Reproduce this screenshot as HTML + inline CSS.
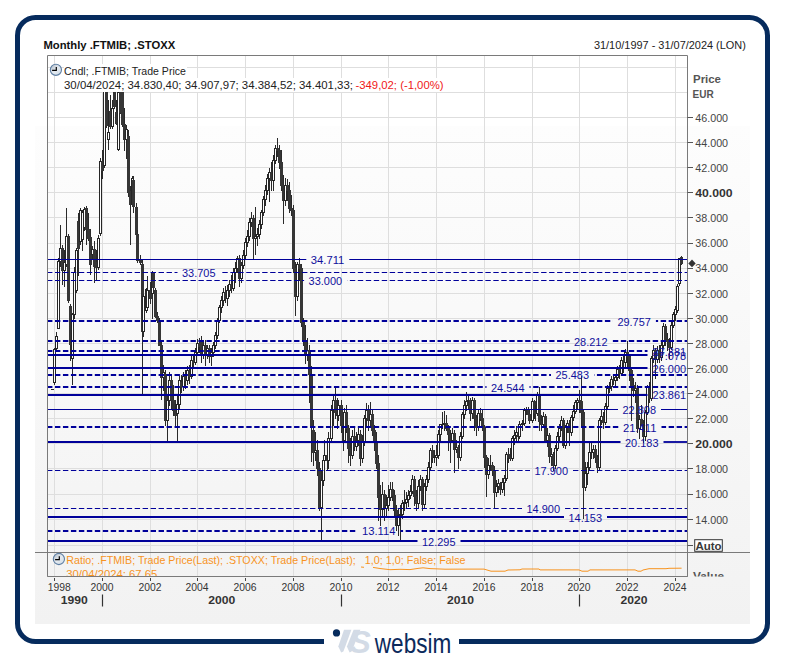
<!DOCTYPE html>
<html><head><meta charset="utf-8"><style>
html,body{margin:0;padding:0;background:#fff;width:785px;height:659px;overflow:hidden}
svg{display:block}
text{font-family:"Liberation Sans", sans-serif}
</style></head><body>
<svg width="785" height="659" viewBox="0 0 785 659">
<defs>
<linearGradient id="pg" x1="0" y1="0" x2="0" y2="1">
<stop offset="0" stop-color="#fdfdfd"/><stop offset="1" stop-color="#f2f2f2"/></linearGradient>
<linearGradient id="ck" x1="0" y1="0" x2="1" y2="1">
<stop offset="0" stop-color="#aab5c2"/><stop offset="0.5" stop-color="#e4eaf0"/><stop offset="1" stop-color="#cfdbe6"/></linearGradient>
<clipPath id="plotclip"><rect x="47.5" y="55.5" width="640.0" height="497.0"/></clipPath>
<clipPath id="lowclip"><rect x="47.5" y="552.5" width="640.0" height="24.0"/></clipPath>
</defs>

<rect x="35" y="126" width="715" height="498" fill="url(#pg)"/>
<path d="M47.5 545.5H687.5M47.5 519.5H687.5M47.5 494.5H687.5M47.5 468.5H687.5M47.5 443.5H687.5M47.5 418.5H687.5M47.5 393.5H687.5M47.5 368.5H687.5M47.5 343.5H687.5M47.5 318.5H687.5M47.5 293.5H687.5M47.5 268.5H687.5M47.5 243.5H687.5M47.5 217.5H687.5M47.5 192.5H687.5M47.5 167.5H687.5M47.5 142.5H687.5M47.5 117.5H687.5M47.5 92.5H687.5M47.5 67.5H687.5M54.5 55.5V576.5M102.5 55.5V576.5M150.5 55.5V576.5M197.5 55.5V576.5M245.5 55.5V576.5M293.5 55.5V576.5M341.5 55.5V576.5M388.5 55.5V576.5M436.5 55.5V576.5M484.5 55.5V576.5M532.5 55.5V576.5M579.5 55.5V576.5M627.5 55.5V576.5M675.5 55.5V576.5" stroke="#dedede" stroke-width="1" fill="none"/>
<g clip-path="url(#plotclip)" shape-rendering="crispEdges">
<rect x="52" y="389" width="1" height="1" fill="#2a2a2a"/><rect x="51" y="389" width="3" height="1" fill="#262626"/><rect x="54" y="348" width="1" height="37" fill="#2a2a2a"/><rect x="53" y="349" width="3" height="34" fill="#262626"/><rect x="54" y="350" width="1" height="32" fill="#fff"/><rect x="56" y="332" width="1" height="18" fill="#2a2a2a"/><rect x="55" y="336" width="3" height="13" fill="#262626"/><rect x="56" y="337" width="1" height="11" fill="#fff"/><rect x="58" y="258" width="1" height="71" fill="#2a2a2a"/><rect x="57" y="261" width="3" height="68" fill="#262626"/><rect x="58" y="262" width="1" height="66" fill="#fff"/><rect x="60" y="225" width="1" height="42" fill="#2a2a2a"/><rect x="59" y="248" width="3" height="14" fill="#262626"/><rect x="60" y="249" width="1" height="12" fill="#fff"/><rect x="62" y="245" width="1" height="40" fill="#2a2a2a"/><rect x="61" y="248" width="3" height="23" fill="#363636"/><rect x="64" y="250" width="1" height="37" fill="#2a2a2a"/><rect x="63" y="262" width="3" height="9" fill="#262626"/><rect x="64" y="263" width="1" height="7" fill="#fff"/><rect x="66" y="208" width="1" height="59" fill="#2a2a2a"/><rect x="65" y="236" width="3" height="29" fill="#262626"/><rect x="66" y="237" width="1" height="27" fill="#fff"/><rect x="68" y="234" width="1" height="69" fill="#2a2a2a"/><rect x="67" y="236" width="3" height="65" fill="#363636"/><rect x="70" y="304" width="1" height="57" fill="#2a2a2a"/><rect x="69" y="306" width="3" height="39" fill="#363636"/><rect x="72" y="313" width="1" height="72" fill="#2a2a2a"/><rect x="71" y="314" width="3" height="45" fill="#262626"/><rect x="72" y="315" width="1" height="43" fill="#fff"/><rect x="74" y="267" width="1" height="52" fill="#2a2a2a"/><rect x="73" y="272" width="3" height="43" fill="#262626"/><rect x="74" y="273" width="1" height="41" fill="#fff"/><rect x="76" y="248" width="1" height="45" fill="#2a2a2a"/><rect x="75" y="250" width="3" height="41" fill="#262626"/><rect x="76" y="251" width="1" height="39" fill="#fff"/><rect x="78" y="213" width="1" height="63" fill="#2a2a2a"/><rect x="77" y="221" width="3" height="28" fill="#363636"/><rect x="80" y="208" width="1" height="37" fill="#2a2a2a"/><rect x="79" y="210" width="3" height="32" fill="#262626"/><rect x="80" y="211" width="1" height="30" fill="#fff"/><rect x="82" y="210" width="1" height="41" fill="#2a2a2a"/><rect x="81" y="212" width="3" height="28" fill="#262626"/><rect x="82" y="213" width="1" height="26" fill="#fff"/><rect x="84" y="207" width="1" height="24" fill="#2a2a2a"/><rect x="83" y="209" width="3" height="19" fill="#262626"/><rect x="84" y="210" width="1" height="17" fill="#fff"/><rect x="86" y="206" width="1" height="39" fill="#2a2a2a"/><rect x="85" y="208" width="3" height="22" fill="#363636"/><rect x="88" y="213" width="1" height="28" fill="#2a2a2a"/><rect x="87" y="229" width="3" height="10" fill="#363636"/><rect x="90" y="229" width="1" height="46" fill="#2a2a2a"/><rect x="89" y="237" width="3" height="28" fill="#363636"/><rect x="92" y="246" width="1" height="13" fill="#2a2a2a"/><rect x="91" y="249" width="3" height="6" fill="#262626"/><rect x="92" y="250" width="1" height="4" fill="#fff"/><rect x="94" y="241" width="1" height="42" fill="#2a2a2a"/><rect x="93" y="249" width="3" height="18" fill="#363636"/><rect x="96" y="250" width="1" height="31" fill="#2a2a2a"/><rect x="95" y="262" width="3" height="6" fill="#363636"/><rect x="98" y="235" width="1" height="35" fill="#2a2a2a"/><rect x="97" y="238" width="3" height="30" fill="#262626"/><rect x="98" y="239" width="1" height="28" fill="#fff"/><rect x="100" y="158" width="1" height="78" fill="#2a2a2a"/><rect x="99" y="161" width="3" height="73" fill="#262626"/><rect x="100" y="162" width="1" height="71" fill="#fff"/><rect x="102" y="150" width="1" height="29" fill="#2a2a2a"/><rect x="101" y="161" width="3" height="10" fill="#363636"/><rect x="104" y="70" width="1" height="98" fill="#2a2a2a"/><rect x="103" y="85" width="3" height="81" fill="#262626"/><rect x="104" y="86" width="1" height="79" fill="#fff"/><rect x="106" y="70" width="1" height="58" fill="#2a2a2a"/><rect x="105" y="85" width="3" height="41" fill="#363636"/><rect x="108" y="100" width="1" height="50" fill="#2a2a2a"/><rect x="107" y="132" width="3" height="8" fill="#262626"/><rect x="108" y="133" width="1" height="6" fill="#fff"/><rect x="110" y="95" width="1" height="34" fill="#2a2a2a"/><rect x="109" y="111" width="3" height="16" fill="#363636"/><rect x="112" y="100" width="1" height="29" fill="#2a2a2a"/><rect x="111" y="108" width="3" height="19" fill="#262626"/><rect x="112" y="109" width="1" height="17" fill="#fff"/><rect x="114" y="75" width="1" height="34" fill="#2a2a2a"/><rect x="113" y="85" width="3" height="22" fill="#363636"/><rect x="116" y="100" width="1" height="25" fill="#2a2a2a"/><rect x="115" y="112" width="3" height="12" fill="#363636"/><rect x="118" y="85" width="1" height="66" fill="#2a2a2a"/><rect x="117" y="92" width="3" height="58" fill="#262626"/><rect x="118" y="93" width="1" height="56" fill="#fff"/><rect x="120" y="80" width="1" height="34" fill="#2a2a2a"/><rect x="119" y="92" width="3" height="21" fill="#363636"/><rect x="122" y="85" width="1" height="42" fill="#2a2a2a"/><rect x="121" y="92" width="3" height="33" fill="#363636"/><rect x="124" y="108" width="1" height="43" fill="#2a2a2a"/><rect x="123" y="124" width="3" height="16" fill="#363636"/><rect x="126" y="125" width="1" height="34" fill="#2a2a2a"/><rect x="125" y="129" width="3" height="11" fill="#262626"/><rect x="126" y="130" width="1" height="9" fill="#fff"/><rect x="128" y="130" width="1" height="67" fill="#2a2a2a"/><rect x="127" y="136" width="3" height="57" fill="#363636"/><rect x="130" y="186" width="1" height="59" fill="#2a2a2a"/><rect x="129" y="191" width="3" height="14" fill="#363636"/><rect x="132" y="176" width="1" height="31" fill="#2a2a2a"/><rect x="131" y="178" width="3" height="27" fill="#262626"/><rect x="132" y="179" width="1" height="25" fill="#fff"/><rect x="133" y="176" width="1" height="37" fill="#2a2a2a"/><rect x="132" y="180" width="3" height="27" fill="#363636"/><rect x="136" y="203" width="1" height="36" fill="#2a2a2a"/><rect x="135" y="207" width="3" height="28" fill="#363636"/><rect x="137" y="230" width="1" height="33" fill="#2a2a2a"/><rect x="136" y="234" width="3" height="27" fill="#363636"/><rect x="140" y="255" width="1" height="10" fill="#2a2a2a"/><rect x="139" y="260" width="3" height="3" fill="#363636"/><rect x="142" y="260" width="1" height="135" fill="#2a2a2a"/><rect x="141" y="264" width="3" height="68" fill="#363636"/><rect x="143" y="294" width="1" height="43" fill="#2a2a2a"/><rect x="142" y="296" width="3" height="36" fill="#262626"/><rect x="143" y="297" width="1" height="34" fill="#fff"/><rect x="146" y="288" width="1" height="25" fill="#2a2a2a"/><rect x="145" y="289" width="3" height="22" fill="#262626"/><rect x="146" y="290" width="1" height="20" fill="#fff"/><rect x="147" y="276" width="1" height="34" fill="#2a2a2a"/><rect x="146" y="290" width="3" height="18" fill="#262626"/><rect x="147" y="291" width="1" height="16" fill="#fff"/><rect x="150" y="282" width="1" height="22" fill="#2a2a2a"/><rect x="149" y="290" width="3" height="9" fill="#363636"/><rect x="152" y="271" width="1" height="48" fill="#2a2a2a"/><rect x="151" y="273" width="3" height="21" fill="#262626"/><rect x="152" y="274" width="1" height="19" fill="#fff"/><rect x="153" y="272" width="1" height="18" fill="#2a2a2a"/><rect x="152" y="273" width="3" height="15" fill="#363636"/><rect x="155" y="288" width="1" height="30" fill="#2a2a2a"/><rect x="154" y="290" width="3" height="27" fill="#363636"/><rect x="157" y="312" width="1" height="11" fill="#2a2a2a"/><rect x="156" y="316" width="3" height="5" fill="#363636"/><rect x="159" y="318" width="1" height="28" fill="#2a2a2a"/><rect x="158" y="321" width="3" height="25" fill="#363636"/><rect x="161" y="340" width="1" height="60" fill="#2a2a2a"/><rect x="160" y="345" width="3" height="33" fill="#363636"/><rect x="163" y="365" width="1" height="26" fill="#2a2a2a"/><rect x="162" y="372" width="3" height="6" fill="#262626"/><rect x="163" y="373" width="1" height="4" fill="#fff"/><rect x="165" y="370" width="1" height="56" fill="#2a2a2a"/><rect x="164" y="374" width="3" height="47" fill="#363636"/><rect x="167" y="395" width="1" height="46" fill="#2a2a2a"/><rect x="166" y="400" width="3" height="21" fill="#262626"/><rect x="167" y="401" width="1" height="19" fill="#fff"/><rect x="169" y="372" width="1" height="34" fill="#2a2a2a"/><rect x="168" y="380" width="3" height="21" fill="#262626"/><rect x="169" y="381" width="1" height="19" fill="#fff"/><rect x="171" y="375" width="1" height="34" fill="#2a2a2a"/><rect x="170" y="380" width="3" height="21" fill="#363636"/><rect x="173" y="385" width="1" height="31" fill="#2a2a2a"/><rect x="172" y="400" width="3" height="11" fill="#363636"/><rect x="175" y="400" width="1" height="26" fill="#2a2a2a"/><rect x="174" y="410" width="3" height="6" fill="#363636"/><rect x="177" y="394" width="1" height="47" fill="#2a2a2a"/><rect x="176" y="404" width="3" height="10" fill="#262626"/><rect x="177" y="405" width="1" height="8" fill="#fff"/><rect x="179" y="376" width="1" height="33" fill="#2a2a2a"/><rect x="178" y="380" width="3" height="25" fill="#262626"/><rect x="179" y="381" width="1" height="23" fill="#fff"/><rect x="181" y="375" width="1" height="18" fill="#2a2a2a"/><rect x="180" y="382" width="3" height="5" fill="#363636"/><rect x="183" y="372" width="1" height="19" fill="#2a2a2a"/><rect x="182" y="376" width="3" height="11" fill="#262626"/><rect x="183" y="377" width="1" height="9" fill="#fff"/><rect x="185" y="370" width="1" height="19" fill="#2a2a2a"/><rect x="184" y="376" width="3" height="5" fill="#363636"/><rect x="187" y="366" width="1" height="19" fill="#2a2a2a"/><rect x="186" y="370" width="3" height="11" fill="#262626"/><rect x="187" y="371" width="1" height="9" fill="#fff"/><rect x="189" y="365" width="1" height="19" fill="#2a2a2a"/><rect x="188" y="370" width="3" height="7" fill="#363636"/><rect x="191" y="355" width="1" height="24" fill="#2a2a2a"/><rect x="190" y="360" width="3" height="17" fill="#262626"/><rect x="191" y="361" width="1" height="15" fill="#fff"/><rect x="193" y="355" width="1" height="14" fill="#2a2a2a"/><rect x="192" y="360" width="3" height="3" fill="#363636"/><rect x="195" y="348" width="1" height="17" fill="#2a2a2a"/><rect x="194" y="352" width="3" height="11" fill="#262626"/><rect x="195" y="353" width="1" height="9" fill="#fff"/><rect x="197" y="339" width="1" height="17" fill="#2a2a2a"/><rect x="196" y="343" width="3" height="10" fill="#262626"/><rect x="197" y="344" width="1" height="8" fill="#fff"/><rect x="199" y="338" width="1" height="15" fill="#2a2a2a"/><rect x="198" y="343" width="3" height="4" fill="#363636"/><rect x="201" y="336" width="1" height="27" fill="#2a2a2a"/><rect x="200" y="342" width="3" height="14" fill="#363636"/><rect x="203" y="340" width="1" height="19" fill="#2a2a2a"/><rect x="202" y="345" width="3" height="11" fill="#262626"/><rect x="203" y="346" width="1" height="9" fill="#fff"/><rect x="205" y="340" width="1" height="26" fill="#2a2a2a"/><rect x="204" y="345" width="3" height="11" fill="#363636"/><rect x="207" y="345" width="1" height="14" fill="#2a2a2a"/><rect x="206" y="348" width="3" height="8" fill="#262626"/><rect x="207" y="349" width="1" height="6" fill="#fff"/><rect x="209" y="345" width="1" height="18" fill="#2a2a2a"/><rect x="208" y="348" width="3" height="9" fill="#363636"/><rect x="211" y="348" width="1" height="18" fill="#2a2a2a"/><rect x="210" y="352" width="3" height="5" fill="#262626"/><rect x="211" y="353" width="1" height="3" fill="#fff"/><rect x="213" y="342" width="1" height="15" fill="#2a2a2a"/><rect x="212" y="345" width="3" height="8" fill="#262626"/><rect x="213" y="346" width="1" height="6" fill="#fff"/><rect x="215" y="332" width="1" height="17" fill="#2a2a2a"/><rect x="214" y="335" width="3" height="11" fill="#262626"/><rect x="215" y="336" width="1" height="9" fill="#fff"/><rect x="217" y="318" width="1" height="21" fill="#2a2a2a"/><rect x="216" y="320" width="3" height="16" fill="#262626"/><rect x="217" y="321" width="1" height="14" fill="#fff"/><rect x="219" y="305" width="1" height="18" fill="#2a2a2a"/><rect x="218" y="307" width="3" height="14" fill="#262626"/><rect x="219" y="308" width="1" height="12" fill="#fff"/><rect x="221" y="296" width="1" height="17" fill="#2a2a2a"/><rect x="220" y="300" width="3" height="8" fill="#262626"/><rect x="221" y="301" width="1" height="6" fill="#fff"/><rect x="223" y="288" width="1" height="18" fill="#2a2a2a"/><rect x="222" y="292" width="3" height="9" fill="#262626"/><rect x="223" y="293" width="1" height="7" fill="#fff"/><rect x="225" y="286" width="1" height="17" fill="#2a2a2a"/><rect x="224" y="292" width="3" height="7" fill="#363636"/><rect x="227" y="285" width="1" height="21" fill="#2a2a2a"/><rect x="226" y="290" width="3" height="9" fill="#262626"/><rect x="227" y="291" width="1" height="7" fill="#fff"/><rect x="229" y="280" width="1" height="17" fill="#2a2a2a"/><rect x="228" y="284" width="3" height="7" fill="#262626"/><rect x="229" y="285" width="1" height="5" fill="#fff"/><rect x="231" y="275" width="1" height="18" fill="#2a2a2a"/><rect x="230" y="284" width="3" height="5" fill="#363636"/><rect x="233" y="268" width="1" height="23" fill="#2a2a2a"/><rect x="232" y="272" width="3" height="17" fill="#262626"/><rect x="233" y="273" width="1" height="15" fill="#fff"/><rect x="235" y="262" width="1" height="21" fill="#2a2a2a"/><rect x="234" y="268" width="3" height="5" fill="#262626"/><rect x="235" y="269" width="1" height="3" fill="#fff"/><rect x="237" y="256" width="1" height="17" fill="#2a2a2a"/><rect x="236" y="258" width="3" height="11" fill="#262626"/><rect x="237" y="259" width="1" height="9" fill="#fff"/><rect x="239" y="255" width="1" height="32" fill="#2a2a2a"/><rect x="238" y="258" width="3" height="21" fill="#363636"/><rect x="241" y="262" width="1" height="21" fill="#2a2a2a"/><rect x="240" y="265" width="3" height="14" fill="#262626"/><rect x="241" y="266" width="1" height="12" fill="#fff"/><rect x="243" y="250" width="1" height="19" fill="#2a2a2a"/><rect x="242" y="255" width="3" height="11" fill="#262626"/><rect x="243" y="256" width="1" height="9" fill="#fff"/><rect x="245" y="238" width="1" height="21" fill="#2a2a2a"/><rect x="244" y="242" width="3" height="14" fill="#262626"/><rect x="245" y="243" width="1" height="12" fill="#fff"/><rect x="247" y="230" width="1" height="17" fill="#2a2a2a"/><rect x="246" y="236" width="3" height="7" fill="#262626"/><rect x="247" y="237" width="1" height="5" fill="#fff"/><rect x="249" y="218" width="1" height="23" fill="#2a2a2a"/><rect x="248" y="222" width="3" height="15" fill="#262626"/><rect x="249" y="223" width="1" height="13" fill="#fff"/><rect x="251" y="212" width="1" height="15" fill="#2a2a2a"/><rect x="250" y="218" width="3" height="5" fill="#262626"/><rect x="251" y="219" width="1" height="3" fill="#fff"/><rect x="253" y="215" width="1" height="45" fill="#2a2a2a"/><rect x="252" y="218" width="3" height="21" fill="#363636"/><rect x="255" y="207" width="1" height="48" fill="#2a2a2a"/><rect x="254" y="236" width="3" height="3" fill="#262626"/><rect x="255" y="237" width="1" height="1" fill="#fff"/><rect x="257" y="228" width="1" height="18" fill="#2a2a2a"/><rect x="256" y="234" width="3" height="3" fill="#262626"/><rect x="257" y="235" width="1" height="1" fill="#fff"/><rect x="259" y="220" width="1" height="19" fill="#2a2a2a"/><rect x="258" y="224" width="3" height="11" fill="#262626"/><rect x="259" y="225" width="1" height="9" fill="#fff"/><rect x="261" y="210" width="1" height="19" fill="#2a2a2a"/><rect x="260" y="212" width="3" height="13" fill="#262626"/><rect x="261" y="213" width="1" height="11" fill="#fff"/><rect x="263" y="196" width="1" height="20" fill="#2a2a2a"/><rect x="262" y="199" width="3" height="14" fill="#262626"/><rect x="263" y="200" width="1" height="12" fill="#fff"/><rect x="265" y="185" width="1" height="21" fill="#2a2a2a"/><rect x="264" y="190" width="3" height="10" fill="#262626"/><rect x="265" y="191" width="1" height="8" fill="#fff"/><rect x="267" y="174" width="1" height="21" fill="#2a2a2a"/><rect x="266" y="178" width="3" height="13" fill="#262626"/><rect x="267" y="179" width="1" height="11" fill="#fff"/><rect x="269" y="168" width="1" height="34" fill="#2a2a2a"/><rect x="268" y="172" width="3" height="7" fill="#262626"/><rect x="269" y="173" width="1" height="5" fill="#fff"/><rect x="271" y="162" width="1" height="29" fill="#2a2a2a"/><rect x="270" y="172" width="3" height="9" fill="#363636"/><rect x="273" y="155" width="1" height="36" fill="#2a2a2a"/><rect x="272" y="160" width="3" height="21" fill="#262626"/><rect x="273" y="161" width="1" height="19" fill="#fff"/><rect x="275" y="145" width="1" height="19" fill="#2a2a2a"/><rect x="274" y="148" width="3" height="13" fill="#262626"/><rect x="275" y="149" width="1" height="11" fill="#fff"/><rect x="277" y="138" width="1" height="19" fill="#2a2a2a"/><rect x="276" y="148" width="3" height="3" fill="#363636"/><rect x="279" y="145" width="1" height="24" fill="#2a2a2a"/><rect x="278" y="150" width="3" height="13" fill="#363636"/><rect x="281" y="150" width="1" height="41" fill="#2a2a2a"/><rect x="280" y="162" width="3" height="24" fill="#363636"/><rect x="283" y="175" width="1" height="49" fill="#2a2a2a"/><rect x="282" y="185" width="3" height="16" fill="#363636"/><rect x="285" y="178" width="1" height="28" fill="#2a2a2a"/><rect x="284" y="185" width="3" height="16" fill="#262626"/><rect x="285" y="186" width="1" height="14" fill="#fff"/><rect x="287" y="179" width="1" height="22" fill="#2a2a2a"/><rect x="286" y="185" width="3" height="6" fill="#363636"/><rect x="289" y="182" width="1" height="31" fill="#2a2a2a"/><rect x="288" y="190" width="3" height="19" fill="#363636"/><rect x="291" y="195" width="1" height="21" fill="#2a2a2a"/><rect x="290" y="208" width="3" height="3" fill="#363636"/><rect x="293" y="205" width="1" height="68" fill="#2a2a2a"/><rect x="292" y="210" width="3" height="59" fill="#363636"/><rect x="295" y="262" width="1" height="54" fill="#2a2a2a"/><rect x="294" y="268" width="3" height="29" fill="#363636"/><rect x="297" y="262" width="1" height="39" fill="#2a2a2a"/><rect x="296" y="264" width="3" height="33" fill="#262626"/><rect x="297" y="265" width="1" height="31" fill="#fff"/><rect x="299" y="258" width="1" height="23" fill="#2a2a2a"/><rect x="298" y="264" width="3" height="5" fill="#363636"/><rect x="301" y="264" width="1" height="63" fill="#2a2a2a"/><rect x="300" y="268" width="3" height="55" fill="#363636"/><rect x="303" y="318" width="1" height="28" fill="#2a2a2a"/><rect x="302" y="322" width="3" height="19" fill="#363636"/><rect x="305" y="325" width="1" height="39" fill="#2a2a2a"/><rect x="304" y="340" width="3" height="15" fill="#363636"/><rect x="307" y="338" width="1" height="23" fill="#2a2a2a"/><rect x="306" y="350" width="3" height="5" fill="#262626"/><rect x="307" y="351" width="1" height="3" fill="#fff"/><rect x="309" y="345" width="1" height="58" fill="#2a2a2a"/><rect x="308" y="350" width="3" height="25" fill="#363636"/><rect x="311" y="366" width="1" height="96" fill="#2a2a2a"/><rect x="310" y="374" width="3" height="54" fill="#363636"/><rect x="313" y="420" width="1" height="46" fill="#2a2a2a"/><rect x="312" y="430" width="3" height="23" fill="#363636"/><rect x="315" y="432" width="1" height="29" fill="#2a2a2a"/><rect x="314" y="450" width="3" height="3" fill="#262626"/><rect x="315" y="451" width="1" height="1" fill="#fff"/><rect x="317" y="440" width="1" height="36" fill="#2a2a2a"/><rect x="316" y="450" width="3" height="19" fill="#363636"/><rect x="319" y="462" width="1" height="49" fill="#2a2a2a"/><rect x="318" y="468" width="3" height="40" fill="#363636"/><rect x="321" y="470" width="1" height="71" fill="#2a2a2a"/><rect x="320" y="480" width="3" height="28" fill="#262626"/><rect x="321" y="481" width="1" height="26" fill="#fff"/><rect x="323" y="455" width="1" height="31" fill="#2a2a2a"/><rect x="322" y="460" width="3" height="21" fill="#262626"/><rect x="323" y="461" width="1" height="19" fill="#fff"/><rect x="324" y="440" width="1" height="26" fill="#2a2a2a"/><rect x="323" y="455" width="3" height="6" fill="#262626"/><rect x="324" y="456" width="1" height="4" fill="#fff"/><rect x="327" y="445" width="1" height="26" fill="#2a2a2a"/><rect x="326" y="455" width="3" height="6" fill="#363636"/><rect x="328" y="432" width="1" height="37" fill="#2a2a2a"/><rect x="327" y="438" width="3" height="23" fill="#262626"/><rect x="328" y="439" width="1" height="21" fill="#fff"/><rect x="331" y="405" width="1" height="36" fill="#2a2a2a"/><rect x="330" y="410" width="3" height="29" fill="#262626"/><rect x="331" y="411" width="1" height="27" fill="#fff"/><rect x="333" y="395" width="1" height="31" fill="#2a2a2a"/><rect x="332" y="400" width="3" height="11" fill="#262626"/><rect x="333" y="401" width="1" height="9" fill="#fff"/><rect x="335" y="388" width="1" height="31" fill="#2a2a2a"/><rect x="334" y="400" width="3" height="13" fill="#363636"/><rect x="337" y="398" width="1" height="31" fill="#2a2a2a"/><rect x="336" y="412" width="3" height="4" fill="#363636"/><rect x="338" y="400" width="1" height="21" fill="#2a2a2a"/><rect x="337" y="405" width="3" height="11" fill="#262626"/><rect x="338" y="406" width="1" height="9" fill="#fff"/><rect x="341" y="400" width="1" height="33" fill="#2a2a2a"/><rect x="340" y="405" width="3" height="21" fill="#363636"/><rect x="343" y="418" width="1" height="33" fill="#2a2a2a"/><rect x="342" y="425" width="3" height="16" fill="#363636"/><rect x="344" y="408" width="1" height="35" fill="#2a2a2a"/><rect x="343" y="412" width="3" height="29" fill="#262626"/><rect x="344" y="413" width="1" height="27" fill="#fff"/><rect x="346" y="405" width="1" height="28" fill="#2a2a2a"/><rect x="345" y="412" width="3" height="17" fill="#363636"/><rect x="348" y="425" width="1" height="38" fill="#2a2a2a"/><rect x="347" y="428" width="3" height="21" fill="#363636"/><rect x="350" y="438" width="1" height="28" fill="#2a2a2a"/><rect x="349" y="448" width="3" height="8" fill="#363636"/><rect x="352" y="430" width="1" height="29" fill="#2a2a2a"/><rect x="351" y="436" width="3" height="20" fill="#262626"/><rect x="352" y="437" width="1" height="18" fill="#fff"/><rect x="354" y="428" width="1" height="23" fill="#2a2a2a"/><rect x="353" y="436" width="3" height="11" fill="#363636"/><rect x="356" y="432" width="1" height="19" fill="#2a2a2a"/><rect x="355" y="440" width="3" height="7" fill="#262626"/><rect x="356" y="441" width="1" height="5" fill="#fff"/><rect x="358" y="428" width="1" height="18" fill="#2a2a2a"/><rect x="357" y="434" width="3" height="7" fill="#262626"/><rect x="358" y="435" width="1" height="5" fill="#fff"/><rect x="360" y="430" width="1" height="36" fill="#2a2a2a"/><rect x="359" y="434" width="3" height="25" fill="#363636"/><rect x="362" y="435" width="1" height="28" fill="#2a2a2a"/><rect x="361" y="441" width="3" height="18" fill="#262626"/><rect x="362" y="442" width="1" height="16" fill="#fff"/><rect x="364" y="415" width="1" height="31" fill="#2a2a2a"/><rect x="363" y="418" width="3" height="24" fill="#262626"/><rect x="364" y="419" width="1" height="22" fill="#fff"/><rect x="366" y="403" width="1" height="23" fill="#2a2a2a"/><rect x="365" y="410" width="3" height="9" fill="#262626"/><rect x="366" y="411" width="1" height="7" fill="#fff"/><rect x="368" y="405" width="1" height="26" fill="#2a2a2a"/><rect x="367" y="410" width="3" height="11" fill="#363636"/><rect x="370" y="402" width="1" height="24" fill="#2a2a2a"/><rect x="369" y="414" width="3" height="7" fill="#262626"/><rect x="370" y="415" width="1" height="5" fill="#fff"/><rect x="372" y="410" width="1" height="26" fill="#2a2a2a"/><rect x="371" y="414" width="3" height="17" fill="#363636"/><rect x="374" y="425" width="1" height="26" fill="#2a2a2a"/><rect x="373" y="430" width="3" height="12" fill="#363636"/><rect x="376" y="432" width="1" height="37" fill="#2a2a2a"/><rect x="375" y="441" width="3" height="23" fill="#363636"/><rect x="378" y="455" width="1" height="66" fill="#2a2a2a"/><rect x="377" y="463" width="3" height="35" fill="#363636"/><rect x="380" y="485" width="1" height="41" fill="#2a2a2a"/><rect x="379" y="497" width="3" height="13" fill="#363636"/><rect x="382" y="482" width="1" height="34" fill="#2a2a2a"/><rect x="381" y="494" width="3" height="16" fill="#262626"/><rect x="382" y="495" width="1" height="14" fill="#fff"/><rect x="384" y="490" width="1" height="31" fill="#2a2a2a"/><rect x="383" y="494" width="3" height="15" fill="#363636"/><rect x="386" y="495" width="1" height="21" fill="#2a2a2a"/><rect x="385" y="505" width="3" height="4" fill="#262626"/><rect x="386" y="506" width="1" height="2" fill="#fff"/><rect x="388" y="485" width="1" height="26" fill="#2a2a2a"/><rect x="387" y="497" width="3" height="9" fill="#262626"/><rect x="388" y="498" width="1" height="7" fill="#fff"/><rect x="390" y="482" width="1" height="19" fill="#2a2a2a"/><rect x="389" y="489" width="3" height="9" fill="#262626"/><rect x="390" y="490" width="1" height="7" fill="#fff"/><rect x="392" y="482" width="1" height="19" fill="#2a2a2a"/><rect x="391" y="489" width="3" height="7" fill="#363636"/><rect x="394" y="490" width="1" height="26" fill="#2a2a2a"/><rect x="393" y="495" width="3" height="16" fill="#363636"/><rect x="396" y="505" width="1" height="26" fill="#2a2a2a"/><rect x="395" y="510" width="3" height="16" fill="#363636"/><rect x="398" y="508" width="1" height="28" fill="#2a2a2a"/><rect x="397" y="515" width="3" height="11" fill="#262626"/><rect x="398" y="516" width="1" height="9" fill="#fff"/><rect x="400" y="505" width="1" height="37" fill="#2a2a2a"/><rect x="399" y="514" width="3" height="2" fill="#262626"/><rect x="402" y="500" width="1" height="19" fill="#2a2a2a"/><rect x="401" y="503" width="3" height="12" fill="#262626"/><rect x="402" y="504" width="1" height="10" fill="#fff"/><rect x="404" y="490" width="1" height="21" fill="#2a2a2a"/><rect x="403" y="502" width="3" height="2" fill="#262626"/><rect x="406" y="492" width="1" height="17" fill="#2a2a2a"/><rect x="405" y="499" width="3" height="4" fill="#262626"/><rect x="406" y="500" width="1" height="2" fill="#fff"/><rect x="408" y="490" width="1" height="17" fill="#2a2a2a"/><rect x="407" y="495" width="3" height="5" fill="#262626"/><rect x="408" y="496" width="1" height="3" fill="#fff"/><rect x="410" y="485" width="1" height="14" fill="#2a2a2a"/><rect x="409" y="491" width="3" height="5" fill="#262626"/><rect x="410" y="492" width="1" height="3" fill="#fff"/><rect x="412" y="475" width="1" height="19" fill="#2a2a2a"/><rect x="411" y="479" width="3" height="13" fill="#262626"/><rect x="412" y="480" width="1" height="11" fill="#fff"/><rect x="414" y="476" width="1" height="30" fill="#2a2a2a"/><rect x="413" y="479" width="3" height="18" fill="#363636"/><rect x="416" y="490" width="1" height="21" fill="#2a2a2a"/><rect x="415" y="496" width="3" height="8" fill="#363636"/><rect x="418" y="480" width="1" height="29" fill="#2a2a2a"/><rect x="417" y="486" width="3" height="18" fill="#262626"/><rect x="418" y="487" width="1" height="16" fill="#fff"/><rect x="420" y="475" width="1" height="16" fill="#2a2a2a"/><rect x="419" y="479" width="3" height="8" fill="#262626"/><rect x="420" y="480" width="1" height="6" fill="#fff"/><rect x="422" y="477" width="1" height="34" fill="#2a2a2a"/><rect x="421" y="479" width="3" height="26" fill="#363636"/><rect x="424" y="483" width="1" height="25" fill="#2a2a2a"/><rect x="423" y="486" width="3" height="19" fill="#262626"/><rect x="424" y="487" width="1" height="17" fill="#fff"/><rect x="426" y="475" width="1" height="16" fill="#2a2a2a"/><rect x="425" y="479" width="3" height="8" fill="#262626"/><rect x="426" y="480" width="1" height="6" fill="#fff"/><rect x="428" y="462" width="1" height="21" fill="#2a2a2a"/><rect x="427" y="467" width="3" height="13" fill="#262626"/><rect x="428" y="468" width="1" height="11" fill="#fff"/><rect x="430" y="448" width="1" height="23" fill="#2a2a2a"/><rect x="429" y="450" width="3" height="18" fill="#262626"/><rect x="430" y="451" width="1" height="16" fill="#fff"/><rect x="432" y="445" width="1" height="18" fill="#2a2a2a"/><rect x="431" y="450" width="3" height="8" fill="#363636"/><rect x="434" y="450" width="1" height="13" fill="#2a2a2a"/><rect x="433" y="457" width="3" height="1" fill="#262626"/><rect x="436" y="445" width="1" height="21" fill="#2a2a2a"/><rect x="435" y="455" width="3" height="3" fill="#262626"/><rect x="436" y="456" width="1" height="1" fill="#fff"/><rect x="438" y="430" width="1" height="29" fill="#2a2a2a"/><rect x="437" y="434" width="3" height="22" fill="#262626"/><rect x="438" y="435" width="1" height="20" fill="#fff"/><rect x="440" y="424" width="1" height="17" fill="#2a2a2a"/><rect x="439" y="424" width="3" height="11" fill="#262626"/><rect x="440" y="425" width="1" height="9" fill="#fff"/><rect x="442" y="412" width="1" height="17" fill="#2a2a2a"/><rect x="441" y="424" width="3" height="1" fill="#262626"/><rect x="444" y="411" width="1" height="20" fill="#2a2a2a"/><rect x="443" y="423" width="3" height="2" fill="#262626"/><rect x="446" y="415" width="1" height="16" fill="#2a2a2a"/><rect x="445" y="423" width="3" height="6" fill="#363636"/><rect x="448" y="425" width="1" height="26" fill="#2a2a2a"/><rect x="447" y="428" width="3" height="7" fill="#363636"/><rect x="450" y="430" width="1" height="33" fill="#2a2a2a"/><rect x="449" y="434" width="3" height="7" fill="#363636"/><rect x="452" y="428" width="1" height="15" fill="#2a2a2a"/><rect x="451" y="433" width="3" height="8" fill="#262626"/><rect x="452" y="434" width="1" height="6" fill="#fff"/><rect x="454" y="430" width="1" height="43" fill="#2a2a2a"/><rect x="453" y="433" width="3" height="17" fill="#363636"/><rect x="456" y="440" width="1" height="13" fill="#2a2a2a"/><rect x="455" y="447" width="3" height="3" fill="#262626"/><rect x="456" y="448" width="1" height="1" fill="#fff"/><rect x="458" y="445" width="1" height="24" fill="#2a2a2a"/><rect x="457" y="447" width="3" height="11" fill="#363636"/><rect x="460" y="432" width="1" height="29" fill="#2a2a2a"/><rect x="459" y="436" width="3" height="22" fill="#262626"/><rect x="460" y="437" width="1" height="20" fill="#fff"/><rect x="462" y="412" width="1" height="27" fill="#2a2a2a"/><rect x="461" y="414" width="3" height="23" fill="#262626"/><rect x="462" y="415" width="1" height="21" fill="#fff"/><rect x="464" y="400" width="1" height="19" fill="#2a2a2a"/><rect x="463" y="405" width="3" height="10" fill="#262626"/><rect x="464" y="406" width="1" height="8" fill="#fff"/><rect x="466" y="392" width="1" height="19" fill="#2a2a2a"/><rect x="465" y="401" width="3" height="5" fill="#262626"/><rect x="466" y="402" width="1" height="3" fill="#fff"/><rect x="468" y="395" width="1" height="14" fill="#2a2a2a"/><rect x="467" y="400" width="3" height="2" fill="#262626"/><rect x="470" y="398" width="1" height="23" fill="#2a2a2a"/><rect x="469" y="400" width="3" height="14" fill="#363636"/><rect x="472" y="397" width="1" height="22" fill="#2a2a2a"/><rect x="471" y="400" width="3" height="14" fill="#262626"/><rect x="472" y="401" width="1" height="12" fill="#fff"/><rect x="474" y="398" width="1" height="33" fill="#2a2a2a"/><rect x="473" y="400" width="3" height="19" fill="#363636"/><rect x="476" y="415" width="1" height="21" fill="#2a2a2a"/><rect x="475" y="418" width="3" height="10" fill="#363636"/><rect x="478" y="410" width="1" height="21" fill="#2a2a2a"/><rect x="477" y="413" width="3" height="15" fill="#262626"/><rect x="478" y="414" width="1" height="13" fill="#fff"/><rect x="480" y="408" width="1" height="13" fill="#2a2a2a"/><rect x="479" y="413" width="3" height="6" fill="#363636"/><rect x="482" y="410" width="1" height="21" fill="#2a2a2a"/><rect x="481" y="418" width="3" height="10" fill="#363636"/><rect x="484" y="425" width="1" height="43" fill="#2a2a2a"/><rect x="483" y="427" width="3" height="31" fill="#363636"/><rect x="486" y="455" width="1" height="42" fill="#2a2a2a"/><rect x="485" y="457" width="3" height="18" fill="#363636"/><rect x="488" y="458" width="1" height="21" fill="#2a2a2a"/><rect x="487" y="465" width="3" height="10" fill="#262626"/><rect x="488" y="466" width="1" height="8" fill="#fff"/><rect x="490" y="455" width="1" height="16" fill="#2a2a2a"/><rect x="489" y="465" width="3" height="1" fill="#262626"/><rect x="492" y="462" width="1" height="14" fill="#2a2a2a"/><rect x="491" y="465" width="3" height="6" fill="#363636"/><rect x="494" y="466" width="1" height="42" fill="#2a2a2a"/><rect x="493" y="470" width="3" height="23" fill="#363636"/><rect x="496" y="480" width="1" height="17" fill="#2a2a2a"/><rect x="495" y="486" width="3" height="7" fill="#262626"/><rect x="496" y="487" width="1" height="5" fill="#fff"/><rect x="498" y="479" width="1" height="14" fill="#2a2a2a"/><rect x="497" y="483" width="3" height="4" fill="#262626"/><rect x="498" y="484" width="1" height="2" fill="#fff"/><rect x="500" y="482" width="1" height="13" fill="#2a2a2a"/><rect x="499" y="483" width="3" height="7" fill="#363636"/><rect x="502" y="478" width="1" height="15" fill="#2a2a2a"/><rect x="501" y="482" width="3" height="8" fill="#262626"/><rect x="502" y="483" width="1" height="6" fill="#fff"/><rect x="504" y="475" width="1" height="21" fill="#2a2a2a"/><rect x="503" y="478" width="3" height="5" fill="#262626"/><rect x="504" y="479" width="1" height="3" fill="#fff"/><rect x="506" y="452" width="1" height="29" fill="#2a2a2a"/><rect x="505" y="454" width="3" height="25" fill="#262626"/><rect x="506" y="455" width="1" height="23" fill="#fff"/><rect x="508" y="448" width="1" height="15" fill="#2a2a2a"/><rect x="507" y="454" width="3" height="4" fill="#363636"/><rect x="510" y="448" width="1" height="13" fill="#2a2a2a"/><rect x="509" y="457" width="3" height="2" fill="#363636"/><rect x="512" y="436" width="1" height="25" fill="#2a2a2a"/><rect x="511" y="438" width="3" height="21" fill="#262626"/><rect x="512" y="439" width="1" height="19" fill="#fff"/><rect x="514" y="430" width="1" height="15" fill="#2a2a2a"/><rect x="513" y="435" width="3" height="4" fill="#262626"/><rect x="514" y="436" width="1" height="2" fill="#fff"/><rect x="516" y="426" width="1" height="15" fill="#2a2a2a"/><rect x="515" y="432" width="3" height="4" fill="#262626"/><rect x="516" y="433" width="1" height="2" fill="#fff"/><rect x="518" y="428" width="1" height="13" fill="#2a2a2a"/><rect x="517" y="432" width="3" height="5" fill="#363636"/><rect x="519" y="421" width="1" height="18" fill="#2a2a2a"/><rect x="518" y="424" width="3" height="13" fill="#262626"/><rect x="519" y="425" width="1" height="11" fill="#fff"/><rect x="522" y="420" width="1" height="11" fill="#2a2a2a"/><rect x="521" y="423" width="3" height="2" fill="#262626"/><rect x="524" y="408" width="1" height="18" fill="#2a2a2a"/><rect x="523" y="410" width="3" height="14" fill="#262626"/><rect x="524" y="411" width="1" height="12" fill="#fff"/><rect x="526" y="407" width="1" height="8" fill="#2a2a2a"/><rect x="525" y="409" width="3" height="2" fill="#262626"/><rect x="528" y="407" width="1" height="14" fill="#2a2a2a"/><rect x="527" y="409" width="3" height="6" fill="#363636"/><rect x="529" y="410" width="1" height="14" fill="#2a2a2a"/><rect x="528" y="414" width="3" height="7" fill="#363636"/><rect x="532" y="398" width="1" height="25" fill="#2a2a2a"/><rect x="531" y="401" width="3" height="20" fill="#262626"/><rect x="532" y="402" width="1" height="18" fill="#fff"/><rect x="534" y="400" width="1" height="19" fill="#2a2a2a"/><rect x="533" y="401" width="3" height="12" fill="#363636"/><rect x="535" y="405" width="1" height="16" fill="#2a2a2a"/><rect x="534" y="412" width="3" height="2" fill="#363636"/><rect x="537" y="392" width="1" height="24" fill="#2a2a2a"/><rect x="536" y="394" width="3" height="20" fill="#262626"/><rect x="537" y="395" width="1" height="18" fill="#fff"/><rect x="539" y="387" width="1" height="44" fill="#2a2a2a"/><rect x="538" y="394" width="3" height="28" fill="#363636"/><rect x="541" y="415" width="1" height="16" fill="#2a2a2a"/><rect x="540" y="421" width="3" height="4" fill="#363636"/><rect x="543" y="412" width="1" height="16" fill="#2a2a2a"/><rect x="542" y="416" width="3" height="9" fill="#262626"/><rect x="543" y="417" width="1" height="7" fill="#fff"/><rect x="545" y="414" width="1" height="29" fill="#2a2a2a"/><rect x="544" y="416" width="3" height="25" fill="#363636"/><rect x="547" y="428" width="1" height="19" fill="#2a2a2a"/><rect x="546" y="435" width="3" height="6" fill="#262626"/><rect x="547" y="436" width="1" height="4" fill="#fff"/><rect x="549" y="433" width="1" height="30" fill="#2a2a2a"/><rect x="548" y="435" width="3" height="22" fill="#363636"/><rect x="551" y="448" width="1" height="18" fill="#2a2a2a"/><rect x="550" y="454" width="3" height="3" fill="#262626"/><rect x="551" y="455" width="1" height="1" fill="#fff"/><rect x="553" y="452" width="1" height="19" fill="#2a2a2a"/><rect x="552" y="454" width="3" height="12" fill="#363636"/><rect x="555" y="445" width="1" height="24" fill="#2a2a2a"/><rect x="554" y="448" width="3" height="18" fill="#262626"/><rect x="555" y="449" width="1" height="16" fill="#fff"/><rect x="557" y="432" width="1" height="19" fill="#2a2a2a"/><rect x="556" y="436" width="3" height="13" fill="#262626"/><rect x="557" y="437" width="1" height="11" fill="#fff"/><rect x="559" y="424" width="1" height="17" fill="#2a2a2a"/><rect x="558" y="428" width="3" height="9" fill="#262626"/><rect x="559" y="429" width="1" height="7" fill="#fff"/><rect x="561" y="416" width="1" height="15" fill="#2a2a2a"/><rect x="560" y="420" width="3" height="9" fill="#262626"/><rect x="561" y="421" width="1" height="7" fill="#fff"/><rect x="563" y="418" width="1" height="30" fill="#2a2a2a"/><rect x="562" y="420" width="3" height="26" fill="#363636"/><rect x="565" y="425" width="1" height="24" fill="#2a2a2a"/><rect x="564" y="427" width="3" height="19" fill="#262626"/><rect x="565" y="428" width="1" height="17" fill="#fff"/><rect x="567" y="420" width="1" height="13" fill="#2a2a2a"/><rect x="566" y="423" width="3" height="5" fill="#262626"/><rect x="567" y="424" width="1" height="3" fill="#fff"/><rect x="569" y="420" width="1" height="26" fill="#2a2a2a"/><rect x="568" y="423" width="3" height="10" fill="#363636"/><rect x="571" y="415" width="1" height="21" fill="#2a2a2a"/><rect x="570" y="417" width="3" height="16" fill="#262626"/><rect x="571" y="418" width="1" height="14" fill="#fff"/><rect x="573" y="405" width="1" height="16" fill="#2a2a2a"/><rect x="572" y="411" width="3" height="7" fill="#262626"/><rect x="573" y="412" width="1" height="5" fill="#fff"/><rect x="575" y="400" width="1" height="14" fill="#2a2a2a"/><rect x="574" y="402" width="3" height="10" fill="#262626"/><rect x="575" y="403" width="1" height="8" fill="#fff"/><rect x="577" y="398" width="1" height="11" fill="#2a2a2a"/><rect x="576" y="400" width="3" height="3" fill="#262626"/><rect x="577" y="401" width="1" height="1" fill="#fff"/><rect x="579" y="390" width="1" height="23" fill="#2a2a2a"/><rect x="578" y="400" width="3" height="2" fill="#363636"/><rect x="581" y="376" width="1" height="50" fill="#2a2a2a"/><rect x="580" y="401" width="3" height="12" fill="#363636"/><rect x="583" y="410" width="1" height="109" fill="#2a2a2a"/><rect x="582" y="412" width="3" height="76" fill="#363636"/><rect x="585" y="462" width="1" height="29" fill="#2a2a2a"/><rect x="584" y="473" width="3" height="15" fill="#262626"/><rect x="585" y="474" width="1" height="13" fill="#fff"/><rect x="587" y="462" width="1" height="23" fill="#2a2a2a"/><rect x="586" y="467" width="3" height="7" fill="#262626"/><rect x="587" y="468" width="1" height="5" fill="#fff"/><rect x="589" y="443" width="1" height="28" fill="#2a2a2a"/><rect x="588" y="452" width="3" height="16" fill="#262626"/><rect x="589" y="453" width="1" height="14" fill="#fff"/><rect x="591" y="442" width="1" height="17" fill="#2a2a2a"/><rect x="590" y="452" width="3" height="1" fill="#262626"/><rect x="593" y="445" width="1" height="14" fill="#2a2a2a"/><rect x="592" y="449" width="3" height="4" fill="#262626"/><rect x="593" y="450" width="1" height="2" fill="#fff"/><rect x="595" y="445" width="1" height="18" fill="#2a2a2a"/><rect x="594" y="449" width="3" height="9" fill="#363636"/><rect x="597" y="455" width="1" height="18" fill="#2a2a2a"/><rect x="596" y="457" width="3" height="11" fill="#363636"/><rect x="599" y="418" width="1" height="53" fill="#2a2a2a"/><rect x="598" y="420" width="3" height="48" fill="#262626"/><rect x="599" y="421" width="1" height="46" fill="#fff"/><rect x="601" y="410" width="1" height="15" fill="#2a2a2a"/><rect x="600" y="416" width="3" height="5" fill="#262626"/><rect x="601" y="417" width="1" height="3" fill="#fff"/><rect x="603" y="412" width="1" height="17" fill="#2a2a2a"/><rect x="602" y="416" width="3" height="7" fill="#363636"/><rect x="605" y="403" width="1" height="22" fill="#2a2a2a"/><rect x="604" y="406" width="3" height="17" fill="#262626"/><rect x="605" y="407" width="1" height="15" fill="#fff"/><rect x="607" y="385" width="1" height="24" fill="#2a2a2a"/><rect x="606" y="388" width="3" height="19" fill="#262626"/><rect x="607" y="389" width="1" height="17" fill="#fff"/><rect x="609" y="382" width="1" height="11" fill="#2a2a2a"/><rect x="608" y="386" width="3" height="3" fill="#262626"/><rect x="609" y="387" width="1" height="1" fill="#fff"/><rect x="611" y="376" width="1" height="15" fill="#2a2a2a"/><rect x="610" y="379" width="3" height="8" fill="#262626"/><rect x="611" y="380" width="1" height="6" fill="#fff"/><rect x="613" y="374" width="1" height="11" fill="#2a2a2a"/><rect x="612" y="379" width="3" height="2" fill="#363636"/><rect x="615" y="374" width="1" height="12" fill="#2a2a2a"/><rect x="614" y="377" width="3" height="4" fill="#262626"/><rect x="615" y="378" width="1" height="2" fill="#fff"/><rect x="617" y="366" width="1" height="15" fill="#2a2a2a"/><rect x="616" y="369" width="3" height="9" fill="#262626"/><rect x="617" y="370" width="1" height="7" fill="#fff"/><rect x="619" y="365" width="1" height="14" fill="#2a2a2a"/><rect x="618" y="369" width="3" height="5" fill="#363636"/><rect x="621" y="357" width="1" height="19" fill="#2a2a2a"/><rect x="620" y="360" width="3" height="14" fill="#262626"/><rect x="621" y="361" width="1" height="12" fill="#fff"/><rect x="623" y="356" width="1" height="17" fill="#2a2a2a"/><rect x="622" y="360" width="3" height="3" fill="#363636"/><rect x="625" y="349" width="1" height="20" fill="#2a2a2a"/><rect x="624" y="352" width="3" height="11" fill="#262626"/><rect x="625" y="353" width="1" height="9" fill="#fff"/><rect x="627" y="341" width="1" height="28" fill="#2a2a2a"/><rect x="626" y="352" width="3" height="5" fill="#363636"/><rect x="629" y="355" width="1" height="26" fill="#2a2a2a"/><rect x="628" y="356" width="3" height="15" fill="#363636"/><rect x="631" y="368" width="1" height="53" fill="#2a2a2a"/><rect x="630" y="370" width="3" height="16" fill="#363636"/><rect x="633" y="378" width="1" height="19" fill="#2a2a2a"/><rect x="632" y="385" width="3" height="6" fill="#363636"/><rect x="635" y="382" width="1" height="21" fill="#2a2a2a"/><rect x="634" y="388" width="3" height="3" fill="#262626"/><rect x="635" y="389" width="1" height="1" fill="#fff"/><rect x="637" y="385" width="1" height="48" fill="#2a2a2a"/><rect x="636" y="388" width="3" height="41" fill="#363636"/><rect x="639" y="415" width="1" height="24" fill="#2a2a2a"/><rect x="638" y="419" width="3" height="10" fill="#262626"/><rect x="639" y="420" width="1" height="8" fill="#fff"/><rect x="641" y="405" width="1" height="21" fill="#2a2a2a"/><rect x="640" y="419" width="3" height="5" fill="#363636"/><rect x="643" y="420" width="1" height="23" fill="#2a2a2a"/><rect x="642" y="423" width="3" height="14" fill="#363636"/><rect x="645" y="410" width="1" height="31" fill="#2a2a2a"/><rect x="644" y="412" width="3" height="25" fill="#262626"/><rect x="645" y="413" width="1" height="23" fill="#fff"/><rect x="647" y="385" width="1" height="30" fill="#2a2a2a"/><rect x="646" y="386" width="3" height="27" fill="#262626"/><rect x="647" y="387" width="1" height="25" fill="#fff"/><rect x="649" y="382" width="1" height="21" fill="#2a2a2a"/><rect x="648" y="386" width="3" height="13" fill="#363636"/><rect x="651" y="356" width="1" height="45" fill="#2a2a2a"/><rect x="650" y="358" width="3" height="41" fill="#262626"/><rect x="651" y="359" width="1" height="39" fill="#fff"/><rect x="653" y="345" width="1" height="18" fill="#2a2a2a"/><rect x="652" y="350" width="3" height="9" fill="#262626"/><rect x="653" y="351" width="1" height="7" fill="#fff"/><rect x="655" y="348" width="1" height="31" fill="#2a2a2a"/><rect x="654" y="350" width="3" height="10" fill="#363636"/><rect x="657" y="346" width="1" height="17" fill="#2a2a2a"/><rect x="656" y="350" width="3" height="10" fill="#262626"/><rect x="657" y="351" width="1" height="8" fill="#fff"/><rect x="659" y="345" width="1" height="18" fill="#2a2a2a"/><rect x="658" y="350" width="3" height="8" fill="#363636"/><rect x="661" y="340" width="1" height="21" fill="#2a2a2a"/><rect x="660" y="345" width="3" height="13" fill="#262626"/><rect x="661" y="346" width="1" height="11" fill="#fff"/><rect x="663" y="323" width="1" height="25" fill="#2a2a2a"/><rect x="662" y="326" width="3" height="20" fill="#262626"/><rect x="663" y="327" width="1" height="18" fill="#fff"/><rect x="665" y="324" width="1" height="22" fill="#2a2a2a"/><rect x="664" y="326" width="3" height="14" fill="#363636"/><rect x="667" y="333" width="1" height="18" fill="#2a2a2a"/><rect x="666" y="339" width="3" height="3" fill="#363636"/><rect x="669" y="338" width="1" height="21" fill="#2a2a2a"/><rect x="668" y="341" width="3" height="7" fill="#363636"/><rect x="671" y="322" width="1" height="28" fill="#2a2a2a"/><rect x="670" y="325" width="3" height="23" fill="#262626"/><rect x="671" y="326" width="1" height="21" fill="#fff"/><rect x="673" y="312" width="1" height="16" fill="#2a2a2a"/><rect x="672" y="314" width="3" height="12" fill="#262626"/><rect x="673" y="315" width="1" height="10" fill="#fff"/><rect x="675" y="306" width="1" height="15" fill="#2a2a2a"/><rect x="674" y="309" width="3" height="6" fill="#262626"/><rect x="675" y="310" width="1" height="4" fill="#fff"/><rect x="677" y="284" width="1" height="29" fill="#2a2a2a"/><rect x="676" y="286" width="3" height="25" fill="#262626"/><rect x="677" y="287" width="1" height="23" fill="#fff"/><rect x="679" y="258" width="1" height="28" fill="#2a2a2a"/><rect x="678" y="258" width="3" height="26" fill="#262626"/><rect x="679" y="259" width="1" height="24" fill="#fff"/><rect x="681" y="256" width="1" height="9" fill="#2a2a2a"/><rect x="680" y="257" width="3" height="7" fill="#363636"/>
</g>
<path d="M47.00 259.5H306.30" stroke="#00009a" stroke-width="1" fill="none"/>
<path d="M349.30 259.5H687.50" stroke="#00009a" stroke-width="1" fill="none"/>
<text x="310.8" y="263.9" font-size="11" fill="#10109c" textLength="33.5" lengthAdjust="spacingAndGlyphs">34.711</text>
<path d="M47.00 272.5H177.50" stroke="#00009a" stroke-width="1" fill="none" stroke-dasharray="5.4 2.57" stroke-dashoffset="0.00"/>
<path d="M220.50 272.5H687.50" stroke="#00009a" stroke-width="1" fill="none" stroke-dasharray="5.4 2.57" stroke-dashoffset="6.13"/>
<text x="182.0" y="277.2" font-size="11" fill="#10109c" textLength="33.5" lengthAdjust="spacingAndGlyphs">33.705</text>
<path d="M47.00 280.5H304.10" stroke="#00009a" stroke-width="1" fill="none" stroke-dasharray="5.4 2.57" stroke-dashoffset="0.00"/>
<path d="M347.10 280.5H687.50" stroke="#00009a" stroke-width="1" fill="none" stroke-dasharray="5.4 2.57" stroke-dashoffset="5.21"/>
<text x="308.6" y="284.9" font-size="11" fill="#10109c" textLength="33.5" lengthAdjust="spacingAndGlyphs">33.000</text>
<path d="M47.00 321H612.90" stroke="#00009a" stroke-width="1.8" fill="none" stroke-dasharray="5.4 2.57" stroke-dashoffset="0.00"/>
<path d="M655.90 321H687.50" stroke="#00009a" stroke-width="1.8" fill="none" stroke-dasharray="5.4 2.57" stroke-dashoffset="3.18"/>
<text x="617.4" y="325.6" font-size="11" fill="#10109c" textLength="33.5" lengthAdjust="spacingAndGlyphs">29.757</text>
<path d="M47.00 341H569.50" stroke="#00009a" stroke-width="1.8" fill="none" stroke-dasharray="5.4 2.57" stroke-dashoffset="0.00"/>
<path d="M612.50 341H687.50" stroke="#00009a" stroke-width="1.8" fill="none" stroke-dasharray="5.4 2.57" stroke-dashoffset="7.60"/>
<text x="574.0" y="345.6" font-size="11" fill="#10109c" textLength="33.5" lengthAdjust="spacingAndGlyphs">28.212</text>
<path d="M47.00 351H647.50" stroke="#00009a" stroke-width="1.8" fill="none" stroke-dasharray="5.4 2.57" stroke-dashoffset="0.00"/>
<text x="652.6" y="355.7" font-size="11" fill="#10109c" textLength="33.5" lengthAdjust="spacingAndGlyphs">27.381</text>
<path d="M47.00 355H647.50" stroke="#00009a" stroke-width="1.8" fill="none"/>
<text x="652.6" y="359.5" font-size="11" fill="#10109c" textLength="33.5" lengthAdjust="spacingAndGlyphs">27.078</text>
<path d="M47.00 368H647.50" stroke="#00009a" stroke-width="1.8" fill="none"/>
<text x="652.6" y="372.7" font-size="11" fill="#10109c" textLength="33.5" lengthAdjust="spacingAndGlyphs">26.000</text>
<path d="M47.00 375H551.00" stroke="#00009a" stroke-width="1.8" fill="none" stroke-dasharray="5.4 2.57" stroke-dashoffset="0.00"/>
<path d="M594.00 375H687.50" stroke="#00009a" stroke-width="1.8" fill="none" stroke-dasharray="5.4 2.57" stroke-dashoffset="5.04"/>
<text x="555.5" y="379.4" font-size="11" fill="#10109c" textLength="33.5" lengthAdjust="spacingAndGlyphs">25.483</text>
<path d="M47.00 387H486.50" stroke="#00009a" stroke-width="1.8" fill="none" stroke-dasharray="5.4 2.57" stroke-dashoffset="0.00"/>
<path d="M529.50 387H687.50" stroke="#00009a" stroke-width="1.8" fill="none" stroke-dasharray="5.4 2.57" stroke-dashoffset="4.30"/>
<text x="491.0" y="391.8" font-size="11" fill="#10109c" textLength="33.5" lengthAdjust="spacingAndGlyphs">24.544</text>
<path d="M47.00 395H647.50" stroke="#00009a" stroke-width="1.8" fill="none"/>
<text x="652.6" y="399.4" font-size="11" fill="#10109c" textLength="33.5" lengthAdjust="spacingAndGlyphs">23.861</text>
<path d="M47.00 409.5H618.00" stroke="#00009a" stroke-width="1" fill="none"/>
<path d="M661.00 409.5H687.50" stroke="#00009a" stroke-width="1" fill="none"/>
<text x="622.5" y="413.9" font-size="11" fill="#10109c" textLength="33.5" lengthAdjust="spacingAndGlyphs">22.808</text>
<path d="M47.00 427H618.50" stroke="#00009a" stroke-width="1.8" fill="none" stroke-dasharray="5.4 2.57" stroke-dashoffset="0.00"/>
<path d="M661.50 427H687.50" stroke="#00009a" stroke-width="1.8" fill="none" stroke-dasharray="5.4 2.57" stroke-dashoffset="0.81"/>
<text x="623.0" y="431.5" font-size="11" fill="#10109c" textLength="33.5" lengthAdjust="spacingAndGlyphs">21.411</text>
<path d="M47.00 442H620.50" stroke="#00009a" stroke-width="1.8" fill="none"/>
<path d="M663.50 442H687.50" stroke="#00009a" stroke-width="1.8" fill="none"/>
<text x="625.0" y="446.5" font-size="11" fill="#10109c" textLength="33.5" lengthAdjust="spacingAndGlyphs">20.183</text>
<path d="M47.00 470.5H530.00" stroke="#00009a" stroke-width="1" fill="none" stroke-dasharray="5.4 2.57" stroke-dashoffset="0.00"/>
<path d="M573.00 470.5H687.50" stroke="#00009a" stroke-width="1" fill="none" stroke-dasharray="5.4 2.57" stroke-dashoffset="7.95"/>
<text x="534.5" y="475.0" font-size="11" fill="#10109c" textLength="33.5" lengthAdjust="spacingAndGlyphs">17.900</text>
<path d="M47.00 508.5H522.00" stroke="#00009a" stroke-width="1" fill="none" stroke-dasharray="5.4 2.57" stroke-dashoffset="0.00"/>
<path d="M565.00 508.5H687.50" stroke="#00009a" stroke-width="1" fill="none" stroke-dasharray="5.4 2.57" stroke-dashoffset="7.92"/>
<text x="526.5" y="513.1" font-size="11" fill="#10109c" textLength="33.5" lengthAdjust="spacingAndGlyphs">14.900</text>
<path d="M47.00 517H564.00" stroke="#00009a" stroke-width="1.8" fill="none"/>
<path d="M607.00 517H687.50" stroke="#00009a" stroke-width="1.8" fill="none"/>
<text x="568.5" y="521.6" font-size="11" fill="#10109c" textLength="33.5" lengthAdjust="spacingAndGlyphs">14.153</text>
<path d="M47.00 531H357.50" stroke="#00009a" stroke-width="1.8" fill="none" stroke-dasharray="5.4 2.57" stroke-dashoffset="0.00"/>
<path d="M400.50 531H687.50" stroke="#00009a" stroke-width="1.8" fill="none" stroke-dasharray="5.4 2.57" stroke-dashoffset="2.82"/>
<text x="362.0" y="535.3" font-size="11" fill="#10109c" textLength="33.5" lengthAdjust="spacingAndGlyphs">13.114</text>
<path d="M47.00 541H417.50" stroke="#00009a" stroke-width="1.8" fill="none"/>
<path d="M460.50 541H687.50" stroke="#00009a" stroke-width="1.8" fill="none"/>
<text x="422.0" y="545.7" font-size="11" fill="#10109c" textLength="33.5" lengthAdjust="spacingAndGlyphs">12.295</text>
<rect x="64" y="64" width="123" height="14" fill="#fff"/>
<rect x="64" y="78" width="381" height="14" fill="#fff"/>
<circle cx="55.9" cy="69.8" r="5.6" fill="url(#ck)" stroke="#5f7fa3" stroke-width="1.1"/><path d="M56.3 67.1V70.39999999999999H52.1" stroke="#000" stroke-width="1.2" fill="none"/>
<text x="64" y="75.1" font-size="11" fill="#222" textLength="121.9" lengthAdjust="spacingAndGlyphs">Cndl; .FTMIB; Trade Price</text>
<text x="64" y="89.2" font-size="11" fill="#222" textLength="289" lengthAdjust="spacingAndGlyphs">30/04/2024; 34.830,40; 34.907,97; 34.384,52; 34.401,33;</text>
<text x="355.5" y="89.2" font-size="11" fill="#f01818" textLength="88" lengthAdjust="spacingAndGlyphs">-349,02; (-1,00%)</text>
<path d="M47.5 55.5H687.5V576.5H47.5Z" stroke="#7a7a7a" stroke-width="1" fill="none"/>
<path d="M35 552.5H750" stroke="#7a7a7a" stroke-width="1"/>
<path d="M687.5 545.5H693M687.5 519.5H693M687.5 494.5H693M687.5 468.5H693M687.5 443.5H693M687.5 418.5H693M687.5 393.5H693M687.5 368.5H693M687.5 343.5H693M687.5 318.5H693M687.5 293.5H693M687.5 268.5H693M687.5 243.5H693M687.5 217.5H693M687.5 192.5H693M687.5 167.5H693M687.5 142.5H693M687.5 117.5H693" stroke="#555" stroke-width="1"/>
<text x="695.3" y="523.5" font-size="11" fill="#444" textLength="32.8" lengthAdjust="spacingAndGlyphs">14.000</text>
<text x="695.3" y="498.4" font-size="11" fill="#444" textLength="32.8" lengthAdjust="spacingAndGlyphs">16.000</text>
<text x="695.3" y="473.3" font-size="11" fill="#444" textLength="32.8" lengthAdjust="spacingAndGlyphs">18.000</text>
<text x="695.2" y="448.2" font-size="11" font-weight="bold" fill="#333" textLength="37.4" lengthAdjust="spacingAndGlyphs">20.000</text>
<text x="695.3" y="423.1" font-size="11" fill="#444" textLength="32.8" lengthAdjust="spacingAndGlyphs">22.000</text>
<text x="695.3" y="398.0" font-size="11" fill="#444" textLength="32.8" lengthAdjust="spacingAndGlyphs">24.000</text>
<text x="695.3" y="372.9" font-size="11" fill="#444" textLength="32.8" lengthAdjust="spacingAndGlyphs">26.000</text>
<text x="695.3" y="347.8" font-size="11" fill="#444" textLength="32.8" lengthAdjust="spacingAndGlyphs">28.000</text>
<text x="695.3" y="322.6" font-size="11" fill="#444" textLength="32.8" lengthAdjust="spacingAndGlyphs">30.000</text>
<text x="695.3" y="297.5" font-size="11" fill="#444" textLength="32.8" lengthAdjust="spacingAndGlyphs">32.000</text>
<text x="695.3" y="272.4" font-size="11" fill="#444" textLength="32.8" lengthAdjust="spacingAndGlyphs">34.000</text>
<text x="695.3" y="247.3" font-size="11" fill="#444" textLength="32.8" lengthAdjust="spacingAndGlyphs">36.000</text>
<text x="695.3" y="222.2" font-size="11" fill="#444" textLength="32.8" lengthAdjust="spacingAndGlyphs">38.000</text>
<text x="695.2" y="197.1" font-size="11" font-weight="bold" fill="#333" textLength="37.4" lengthAdjust="spacingAndGlyphs">40.000</text>
<text x="695.3" y="172.0" font-size="11" fill="#444" textLength="32.8" lengthAdjust="spacingAndGlyphs">42.000</text>
<text x="695.3" y="146.9" font-size="11" fill="#444" textLength="32.8" lengthAdjust="spacingAndGlyphs">44.000</text>
<text x="695.3" y="121.8" font-size="11" fill="#444" textLength="32.8" lengthAdjust="spacingAndGlyphs">46.000</text>
<text x="693" y="82.8" font-size="11" font-weight="bold" fill="#555" textLength="28" lengthAdjust="spacingAndGlyphs">Price</text>
<text x="692.5" y="98" font-size="11" font-weight="bold" fill="#555" textLength="21.2" lengthAdjust="spacingAndGlyphs">EUR</text>
<rect x="694.7" y="539.7" width="27.6" height="11.6" fill="#fff" stroke="#333" stroke-width="1"/>
<text x="695.4" y="549.5" font-size="11" font-weight="bold" fill="#3a3a3a" textLength="26.2" lengthAdjust="spacingAndGlyphs">Auto</text>
<path d="M688.3 263.4L692 259.6L695.7 263.4L692 267.2Z" fill="#333"/>
<svg x="688" y="553" width="62" height="23.5" overflow="hidden"><g transform="translate(-688,-553)">
<text x="693" y="579.9" font-size="11" font-weight="bold" fill="#555" textLength="31" lengthAdjust="spacingAndGlyphs">Value</text>
</g></svg>
<svg x="47.5" y="552.5" width="640.0" height="24.0" overflow="hidden"><g transform="translate(-47.5,-552.5)">
<path d="M361 567 L364 567.3" stroke="#f7931e" stroke-width="1" fill="none"/>
<path d="M373 567.4 L380 568.5 L390 569.7 L400 569.3 L410 569.6 L418 568.4 L423 567.8 L430 568.6 L445 569.2 L470 569.1 L484 569.1 L491 571.2 L505 571.2 L508 570 L520 569.8 L522 569 L539 569 L540 569.9 L579 569.9 L582 571.2 L588 571.2 L590 569.9 L635 569.9 L638 571.2 L641 571.2 L643 570 L649 568.7 L666 568.7 L669 568.3 L681.6 568.2" stroke="#f7931e" stroke-width="1" fill="none"/>
<circle cx="58.9" cy="559" r="5.6" fill="url(#ck)" stroke="#5f7fa3" stroke-width="1.1"/><path d="M59.3 556.3V559.6H55.1" stroke="#000" stroke-width="1.2" fill="none"/>
<text x="66.3" y="563.8" font-size="11" fill="#f7931e" textLength="289.4" lengthAdjust="spacingAndGlyphs">Ratio; .FTMIB; Trade Price(Last); .STOXX; Trade Price(Last);</text>
<text x="364.8" y="563.8" font-size="11" fill="#f7931e" textLength="100.8" lengthAdjust="spacingAndGlyphs">1,0; 1,0; False; False</text>
<text x="66.3" y="577.6" font-size="11" fill="#f7931e" textLength="91" lengthAdjust="spacingAndGlyphs">30/04/2024; 67,65</text>
</g></svg>
<path d="M47.5 576.5H687.5V552.5" stroke="#7a7a7a" stroke-width="1" fill="none"/>
<path d="M54.5 578V581M102.5 578V581M150.5 578V581M197.5 578V581M245.5 578V581M293.5 578V581M341.5 578V581M388.5 578V581M436.5 578V581M484.5 578V581M532.5 578V581M579.5 578V581M627.5 578V581M675.5 578V581" stroke="#444" stroke-width="1"/>
<text x="59.3" y="591" font-size="11" fill="#333" text-anchor="middle" textLength="23" lengthAdjust="spacingAndGlyphs">1998</text>
<text x="102.0" y="591" font-size="11" fill="#333" text-anchor="middle" textLength="23" lengthAdjust="spacingAndGlyphs">2000</text>
<text x="150.0" y="591" font-size="11" fill="#333" text-anchor="middle" textLength="23" lengthAdjust="spacingAndGlyphs">2002</text>
<text x="197.0" y="591" font-size="11" fill="#333" text-anchor="middle" textLength="23" lengthAdjust="spacingAndGlyphs">2004</text>
<text x="245.0" y="591" font-size="11" fill="#333" text-anchor="middle" textLength="23" lengthAdjust="spacingAndGlyphs">2006</text>
<text x="293.0" y="591" font-size="11" fill="#333" text-anchor="middle" textLength="23" lengthAdjust="spacingAndGlyphs">2008</text>
<text x="341.0" y="591" font-size="11" fill="#333" text-anchor="middle" textLength="23" lengthAdjust="spacingAndGlyphs">2010</text>
<text x="388.0" y="591" font-size="11" fill="#333" text-anchor="middle" textLength="23" lengthAdjust="spacingAndGlyphs">2012</text>
<text x="436.0" y="591" font-size="11" fill="#333" text-anchor="middle" textLength="23" lengthAdjust="spacingAndGlyphs">2014</text>
<text x="484.0" y="591" font-size="11" fill="#333" text-anchor="middle" textLength="23" lengthAdjust="spacingAndGlyphs">2016</text>
<text x="532.0" y="591" font-size="11" fill="#333" text-anchor="middle" textLength="23" lengthAdjust="spacingAndGlyphs">2018</text>
<text x="579.0" y="591" font-size="11" fill="#333" text-anchor="middle" textLength="23" lengthAdjust="spacingAndGlyphs">2020</text>
<text x="627.0" y="591" font-size="11" fill="#333" text-anchor="middle" textLength="23" lengthAdjust="spacingAndGlyphs">2022</text>
<text x="675.0" y="591" font-size="11" fill="#333" text-anchor="middle" textLength="23" lengthAdjust="spacingAndGlyphs">2024</text>
<text x="74.2" y="604.2" font-size="11" font-weight="bold" fill="#333" text-anchor="middle" textLength="27" lengthAdjust="spacingAndGlyphs">1990</text>
<text x="221.8" y="604.2" font-size="11" font-weight="bold" fill="#333" text-anchor="middle" textLength="27" lengthAdjust="spacingAndGlyphs">2000</text>
<text x="460.5" y="604.2" font-size="11" font-weight="bold" fill="#333" text-anchor="middle" textLength="27" lengthAdjust="spacingAndGlyphs">2010</text>
<text x="634.0" y="604.2" font-size="11" font-weight="bold" fill="#333" text-anchor="middle" textLength="27" lengthAdjust="spacingAndGlyphs">2020</text>
<path d="M102.5 594.5V606.5M341.5 594.5V606.5M579.5 594.5V606.5" stroke="#333" stroke-width="1.2"/>
<text x="43.4" y="48.9" font-size="11" font-weight="bold" fill="#111" textLength="131.8" lengthAdjust="spacingAndGlyphs">Monthly .FTMIB; .STOXX</text>
<text x="593.9" y="48.9" font-size="11" fill="#222" textLength="152" lengthAdjust="spacingAndGlyphs">31/10/1997 - 31/07/2024 (LON)</text>
<rect x="17.5" y="17.5" width="750" height="624" rx="18" ry="18" fill="none" stroke="#062b5d" stroke-width="5"/>
<rect x="324" y="636" width="135" height="10" fill="#fff"/>
<circle cx="336.5" cy="632.9" r="3.6" fill="#062b5d"/>
<path d="M344.0 629.7H351.4L343.4 651.6L341.2 652.6L338.3 646.4Z" fill="#d3dbe6"/>
<path d="M353.6 629.7H360.4L351.6 651.6L349.6 652.6L346.9 646.4Z" fill="#d3dbe6"/>
<text x="349.8" y="652.8" font-size="32" font-weight="bold" font-style="italic" fill="#d3dbe6" textLength="21" lengthAdjust="spacingAndGlyphs">S</text>
<text x="374.8" y="652.6" font-size="28" fill="#0b2a5c" textLength="76.5" lengthAdjust="spacingAndGlyphs">websim</text>
</svg></body></html>
